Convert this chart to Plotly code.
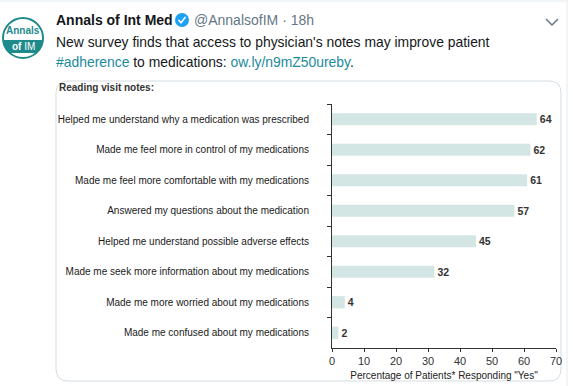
import numpy as np
import plotly.graph_objects as go

W, H = 573, 386

# ---- data ----
categories = [
    "Helped me understand why a medication was prescribed",
    "Made me feel more in control of my medications",
    "Made me feel more comfortable with my medications",
    "Answered my questions about the medication",
    "Helped me understand possible adverse effects",
    "Made me seek more information about my medications",
    "Made me more worried about my medications",
    "Made me confused about my medications",
]
values = [64, 62, 61, 57, 45, 32, 4, 2]
x_ticks = [0, 10, 20, 30, 40, 50, 60, 70]

chart_title = "Reading visit notes:"
x_title = 'Percentage of Patients* Responding "Yes"'
account_name = "Annals of Int Med"
account_handle = "@AnnalsofIM · 18h"
tweet_line1 = "New survey finds that access to physician's notes may improve patient"
hashtag = "#adherence"
link = "ow.ly/n9mZ50ureby"


def px(x):
    return x / W


def py(y):
    return 1 - y / H


CHART_FONT = "Liberation Sans"
TWEET_FONT = "Liberation Sans"
TEXT_DARK = "#14171a"
GRAY = "#657786"
LINK = "#1b8a9c"
TEAL = "#1f8a8c"

fig = go.Figure()
fig.add_trace(go.Bar(
    y=categories,
    x=values,
    orientation="h",
    width=0.4,
    marker=dict(color="#d3e6e4", line=dict(width=0)),
    text=values,
    texttemplate="<b>%{text}</b>",
    textposition="outside",
    textfont=dict(family=CHART_FONT, size=10.5, color="#333333"),
    cliponaxis=False,
    hoverinfo="skip",
))

shapes = []
annotations = []

# tweet container borders
shapes.append(dict(type="line", xref="paper", yref="paper", x0=0, x1=px(567),
                   y0=py(1), y1=py(1), line=dict(color="#e6ecf0", width=1)))
shapes.append(dict(type="line", xref="paper", yref="paper", x0=px(567), x1=px(567),
                   y0=py(0), y1=py(386), line=dict(color="#e6ecf0", width=1)))

# chart card (rounded rectangle)
x0, y0, x1, y1, r = 56, 81, 561, 381, 12
path = (f"M {px(x0+r)} {py(y0)} L {px(x1-r)} {py(y0)} "
        f"Q {px(x1)} {py(y0)} {px(x1)} {py(y0+r)} L {px(x1)} {py(y1-r)} "
        f"Q {px(x1)} {py(y1)} {px(x1-r)} {py(y1)} L {px(x0+r)} {py(y1)} "
        f"Q {px(x0)} {py(y1)} {px(x0)} {py(y1-r)} L {px(x0)} {py(y0+r)} "
        f"Q {px(x0)} {py(y0)} {px(x0+r)} {py(y0)} Z")
shapes.append(dict(type="path", xref="paper", yref="paper", path=path,
                   line=dict(color="#d6dde2", width=1), fillcolor="rgba(0,0,0,0)", layer="below"))

# logo circle
cx, cy, cr = 23, 38, 20
shapes.append(dict(type="circle", xref="paper", yref="paper",
                   x0=px(cx-cr), x1=px(cx+cr), y0=py(cy-cr), y1=py(cy+cr),
                   line=dict(color=TEAL, width=2), fillcolor="white"))
# teal band (chord region)
b1, b2 = 40, 53
ys = np.linspace(b1, b2, 8)
left = [(cx - np.sqrt(cr**2 - (yy-cy)**2), yy) for yy in ys]
right = [(cx + np.sqrt(cr**2 - (yy-cy)**2), yy) for yy in ys[::-1]]
pts = left + right
bp = "M " + " L ".join(f"{px(a)} {py(b)}" for a, b in pts) + " Z"
shapes.append(dict(type="path", xref="paper", yref="paper", path=bp,
                   line=dict(width=0), fillcolor=TEAL))
annotations.append(dict(xref="paper", yref="paper", x=px(cx), y=py(31), text="<b>Annals</b>",
                        showarrow=False, font=dict(family="Liberation Sans Narrow, Liberation Sans", size=10, color=TEAL),
                        xanchor="center", yanchor="middle"))
annotations.append(dict(xref="paper", yref="paper", x=px(cx), y=py(46.5), text="<b>of</b> IM",
                        showarrow=False, font=dict(family="Liberation Sans", size=10, color="white"),
                        xanchor="center", yanchor="middle"))

# name, badge, handle
annotations.append(dict(xref="paper", yref="paper", x=px(54), y=py(20), text=f"<b>{account_name}</b>",
                        showarrow=False, font=dict(family=TWEET_FONT, size=14, color=TEXT_DARK),
                        xanchor="left", yanchor="middle"))
shapes.append(dict(type="circle", xref="paper", yref="paper",
                   x0=px(175), x1=px(189), y0=py(13), y1=py(27),
                   line=dict(width=0), fillcolor="#1da1f2"))
shapes.append(dict(type="path", xref="paper", yref="paper",
                   path=f"M {px(178.5)} {py(20)} L {px(181)} {py(22.8)} L {px(185.5)} {py(17)}",
                   line=dict(color="white", width=1.6)))
annotations.append(dict(xref="paper", yref="paper", x=px(192), y=py(20), text=account_handle,
                        showarrow=False, font=dict(family=TWEET_FONT, size=14, color=GRAY),
                        xanchor="left", yanchor="middle"))
# chevron
shapes.append(dict(type="path", xref="paper", yref="paper",
                   path=f"M {px(546)} {py(19)} L {px(552)} {py(25)} L {px(558)} {py(19)}",
                   line=dict(color=GRAY, width=1.5)))

# tweet text
annotations.append(dict(xref="paper", yref="paper", x=px(54), y=py(42), text=tweet_line1,
                        showarrow=False, font=dict(family=TWEET_FONT, size=13.9, color=TEXT_DARK),
                        xanchor="left", yanchor="middle"))
annotations.append(dict(xref="paper", yref="paper", x=px(54), y=py(62),
                        text=f"<span style='color:{LINK}'>{hashtag}</span> to medications: "
                             f"<span style='color:{LINK}'>{link}</span>.",
                        showarrow=False, font=dict(family=TWEET_FONT, size=13.9, color=TEXT_DARK),
                        xanchor="left", yanchor="middle"))

# chart title
annotations.append(dict(xref="paper", yref="paper", x=px(57), y=py(87), text=f"<b>{chart_title}</b>",
                        showarrow=False, font=dict(family=CHART_FONT, size=10, color="#333333"),
                        xanchor="left", yanchor="middle"))

fig.update_layout(
    width=W, height=H,
    margin=dict(l=0, r=0, t=0, b=0, autoexpand=False),
    paper_bgcolor="white", plot_bgcolor="white",
    showlegend=False,
    bargap=0.6,
    shapes=shapes,
    annotations=annotations,
    xaxis=dict(
        domain=[px(332), px(556)],
        range=[0, 70],
        tickvals=x_ticks,
        automargin=False,
        showline=True, linecolor="#333333", linewidth=1,
        ticks="outside", ticklen=3, tickcolor="#333333",
        showgrid=False, zeroline=False,
        tickfont=dict(family=CHART_FONT, size=11, color="#333333"),
        title=dict(text=x_title, font=dict(family=CHART_FONT, size=10, color="#222222"), standoff=5),
    ),
    yaxis=dict(
        domain=[py(348), py(104)],
        categoryorder="array", categoryarray=categories[::-1],
        automargin=False,
        showline=True, linecolor="#333333", linewidth=1,
        ticks="outside", ticklen=4, tickcolor="#333333",
        tickson="boundaries",
        ticklabelstandoff=20,
        showgrid=False, zeroline=False,
        tickfont=dict(family=CHART_FONT, size=10, color="#1a1a1a"),
    ),
)

fig.write_html(
    "out.html",
    config={"displayModeBar": False},
    post_script="document.body.style.margin='0';document.body.style.overflow='hidden';",
)
